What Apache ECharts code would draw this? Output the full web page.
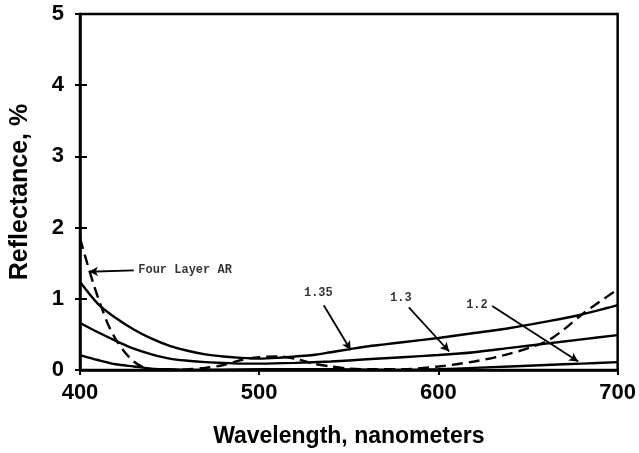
<!DOCTYPE html>
<html><head><meta charset="utf-8">
<script src="https://cdn.jsdelivr.net/npm/echarts@6/dist/echarts.min.js"></script>
<style>html,body{margin:0;padding:0;background:#fff}#c{width:639px;height:453px}</style>
</head><body><div id="c"></div>
<script>
// Wavelength (nm) and reflectance (%) for each curve
const wl135 = [400,410,420,430,440,450,460,470,480,490,500,510,520,530,540,550,560,570,580,600,620,640,660,680,700];
const r135  = [1.24,0.93,0.73,0.57,0.44,0.34,0.27,0.22,0.19,0.17,0.16,0.17,0.19,0.21,0.25,0.29,0.33,0.36,0.39,0.45,0.52,0.59,0.68,0.78,0.91];
const wl13  = [400,410,420,430,440,450,460,470,480,490,500,520,540,560,580,600,620,640,660,680,700];
const r13   = [0.66,0.53,0.41,0.30,0.22,0.16,0.13,0.11,0.10,0.09,0.09,0.10,0.12,0.15,0.18,0.21,0.25,0.31,0.37,0.43,0.49];
const wl12  = [400,410,420,430,440,450,460,500,540,580,600,620,640,660,680,700];
const r12   = [0.21,0.14,0.08,0.05,0.02,0.01,0.0,0.01,0.01,0.0,0.01,0.03,0.05,0.07,0.09,0.11];
const wl4L  = [400,404,408,412,416,420,425,430,435,440,450,460,470,480,490,500,510,520,530,540,550,560,580,600,620,640,660,670,680,690,700];
const r4L   = [1.85,1.50,1.17,0.88,0.62,0.43,0.25,0.12,0.04,0.0,0.0,0.01,0.03,0.07,0.14,0.18,0.19,0.16,0.09,0.05,0.02,0.01,0.01,0.05,0.12,0.23,0.40,0.57,0.78,0.96,1.13];

const xTicks = [400,500,600,700];
const yTicks = [0,1,2,3,4,5];

const annoText    = ['Four Layer AR','1.35','1.3','1.2'];
const annoTextPos = [[432.5,1.40],[533,1.08],[579,1.01],[621.5,0.91]];
const annoAlign   = ['left','center','center','center'];
const arrowFrom   = [[430,1.40],[536,0.91],[583.5,0.88],[630,0.90]];
const arrowTo     = [[405,1.38],[551,0.28],[606,0.26],[678,0.12]];

const zip = (a,b)=>a.map((v,i)=>[v,b[i]]);
const lineStyle = {color:'#000', width:2.4};
function curve(name, xs, ys, dashed){
  return {name, type:'line', data:zip(xs,ys), smooth:0.3, showSymbol:false, symbol:'none',
    lineStyle:Object.assign({}, lineStyle, dashed?{type:[11,6]}:{}), z:3, animation:false};
}
const font = 'Liberation Sans, Arial, sans-serif';
const chart = echarts.init(document.getElementById('c'), null, {renderer:'canvas'});
chart.setOption({
  animation:false,
  backgroundColor:'#fff',
  grid:{left:74, right:20, top:14, bottom:83, show:true, borderColor:'#000', borderWidth:2.5, backgroundColor:'transparent'},
  xAxis:{type:'value', min:400, max:700, interval:100,
    name:'Wavelength, nanometers', nameLocation:'middle', nameGap:55,
    nameTextStyle:{fontFamily:font, fontSize:23, fontWeight:'bold', color:'#000'},
    axisLine:{show:true, lineStyle:{color:'#000', width:2.5}},
    axisTick:{show:true, length:5, lineStyle:{color:'#000', width:2}},
    axisLabel:{fontFamily:font, fontSize:22, fontWeight:'bold', color:'#000', margin:12, formatter:v=>xTicks.includes(v)?String(v):''},
    splitLine:{show:false}},
  yAxis:[{type:'value', min:0, max:5, interval:1,
    name:'Reflectance, %', nameLocation:'middle', nameGap:47,
    nameTextStyle:{fontFamily:font, fontSize:25, fontWeight:'bold', color:'#000'},
    axisLine:{show:true, lineStyle:{color:'#000', width:2.5}},
    axisTick:{show:true, length:5, lineStyle:{color:'#000', width:2}},
    axisLabel:{fontFamily:font, fontSize:22, fontWeight:'bold', color:'#000', margin:16, formatter:v=>yTicks.includes(v)?String(v):''},
    splitLine:{show:false}},
   {type:'value', min:0, max:5, interval:1, position:'left',
    axisLine:{show:false}, axisLabel:{show:false}, splitLine:{show:false},
    axisTick:{show:true, inside:true, length:7, lineStyle:{color:'#000', width:2}}}],
  series:[
    curve('1.35', wl135, r135, false),
    curve('1.3', wl13, r13, false),
    curve('1.2', wl12, r12, false),
    curve('Four Layer AR', wl4L, r4L, true),
    {type:'scatter', name:'labels', symbolSize:0, z:5,
      data:annoTextPos.map((p,i)=>({value:p, label:{show:true, position:'inside', formatter:annoText[i], align:annoAlign[i],
        fontFamily:'Liberation Mono, DejaVu Sans Mono, monospace', fontWeight:'bold', fontSize:12, color:'#000'}})),
      markLine:{silent:true, symbol:['none','arrow'], symbolSize:[7,9], label:{show:false},
        lineStyle:{color:'#000', width:1.8, type:'solid'},
        data:arrowFrom.map((f,i)=>[{coord:f},{coord:arrowTo[i]}])}}
  ]
});
</script></body></html>
